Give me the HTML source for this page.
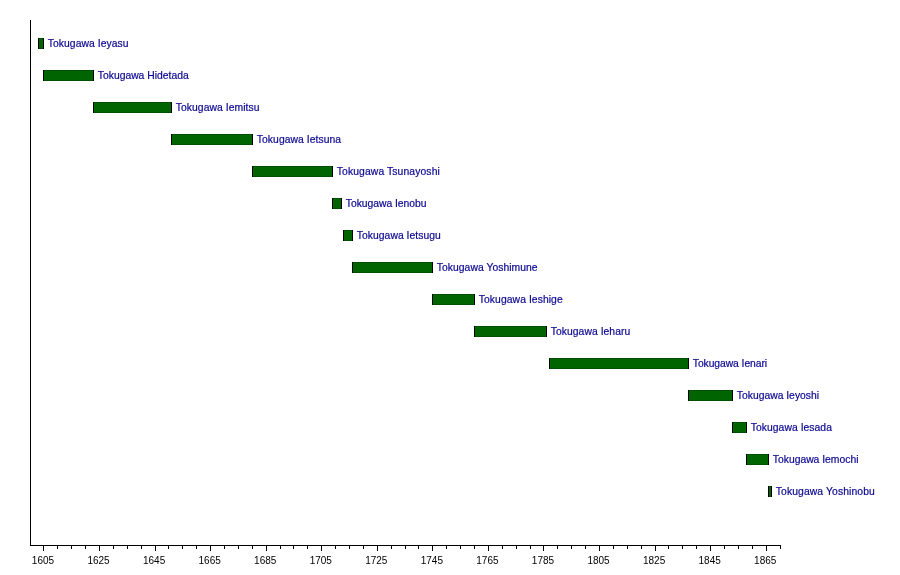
<!DOCTYPE html>
<html><head><meta charset="utf-8"><style>
html,body{margin:0;padding:0;background:#fff;}
body{width:900px;height:575px;overflow:hidden;}
svg{display:block;will-change:transform;}
.lb{font-family:"Liberation Sans",sans-serif;font-size:10.35px;fill:#0b0792;stroke:#0b0792;stroke-width:0.2;}
.ax{font-family:"Liberation Sans",sans-serif;font-size:10px;fill:#000;}
</style></head><body>
<svg width="900" height="575" viewBox="0 0 900 575" shape-rendering="crispEdges">
<rect x="30" y="20" width="1" height="526" fill="#000"/>
<rect x="30" y="545" width="751" height="1" fill="#000"/>
<rect x="43" y="546" width="1" height="5" fill="#000"/>
<text x="42.99" y="563.5" text-anchor="middle" class="ax">1605</text>
<rect x="57" y="546" width="1" height="3" fill="#000"/>
<rect x="71" y="546" width="1" height="3" fill="#000"/>
<rect x="85" y="546" width="1" height="3" fill="#000"/>
<rect x="99" y="546" width="1" height="5" fill="#000"/>
<text x="98.54" y="563.5" text-anchor="middle" class="ax">1625</text>
<rect x="113" y="546" width="1" height="3" fill="#000"/>
<rect x="127" y="546" width="1" height="3" fill="#000"/>
<rect x="141" y="546" width="1" height="3" fill="#000"/>
<rect x="155" y="546" width="1" height="5" fill="#000"/>
<text x="154.10" y="563.5" text-anchor="middle" class="ax">1645</text>
<rect x="168" y="546" width="1" height="3" fill="#000"/>
<rect x="182" y="546" width="1" height="3" fill="#000"/>
<rect x="196" y="546" width="1" height="3" fill="#000"/>
<rect x="210" y="546" width="1" height="5" fill="#000"/>
<text x="209.66" y="563.5" text-anchor="middle" class="ax">1665</text>
<rect x="224" y="546" width="1" height="3" fill="#000"/>
<rect x="238" y="546" width="1" height="3" fill="#000"/>
<rect x="252" y="546" width="1" height="3" fill="#000"/>
<rect x="266" y="546" width="1" height="5" fill="#000"/>
<text x="265.21" y="563.5" text-anchor="middle" class="ax">1685</text>
<rect x="280" y="546" width="1" height="3" fill="#000"/>
<rect x="293" y="546" width="1" height="3" fill="#000"/>
<rect x="307" y="546" width="1" height="3" fill="#000"/>
<rect x="321" y="546" width="1" height="5" fill="#000"/>
<text x="320.77" y="563.5" text-anchor="middle" class="ax">1705</text>
<rect x="335" y="546" width="1" height="3" fill="#000"/>
<rect x="349" y="546" width="1" height="3" fill="#000"/>
<rect x="363" y="546" width="1" height="3" fill="#000"/>
<rect x="377" y="546" width="1" height="5" fill="#000"/>
<text x="376.32" y="563.5" text-anchor="middle" class="ax">1725</text>
<rect x="391" y="546" width="1" height="3" fill="#000"/>
<rect x="405" y="546" width="1" height="3" fill="#000"/>
<rect x="418" y="546" width="1" height="3" fill="#000"/>
<rect x="432" y="546" width="1" height="5" fill="#000"/>
<text x="431.88" y="563.5" text-anchor="middle" class="ax">1745</text>
<rect x="446" y="546" width="1" height="3" fill="#000"/>
<rect x="460" y="546" width="1" height="3" fill="#000"/>
<rect x="474" y="546" width="1" height="3" fill="#000"/>
<rect x="488" y="546" width="1" height="5" fill="#000"/>
<text x="487.43" y="563.5" text-anchor="middle" class="ax">1765</text>
<rect x="502" y="546" width="1" height="3" fill="#000"/>
<rect x="516" y="546" width="1" height="3" fill="#000"/>
<rect x="530" y="546" width="1" height="3" fill="#000"/>
<rect x="543" y="546" width="1" height="5" fill="#000"/>
<text x="542.99" y="563.5" text-anchor="middle" class="ax">1785</text>
<rect x="557" y="546" width="1" height="3" fill="#000"/>
<rect x="571" y="546" width="1" height="3" fill="#000"/>
<rect x="585" y="546" width="1" height="3" fill="#000"/>
<rect x="599" y="546" width="1" height="5" fill="#000"/>
<text x="598.54" y="563.5" text-anchor="middle" class="ax">1805</text>
<rect x="613" y="546" width="1" height="3" fill="#000"/>
<rect x="627" y="546" width="1" height="3" fill="#000"/>
<rect x="641" y="546" width="1" height="3" fill="#000"/>
<rect x="655" y="546" width="1" height="5" fill="#000"/>
<text x="654.10" y="563.5" text-anchor="middle" class="ax">1825</text>
<rect x="668" y="546" width="1" height="3" fill="#000"/>
<rect x="682" y="546" width="1" height="3" fill="#000"/>
<rect x="696" y="546" width="1" height="3" fill="#000"/>
<rect x="710" y="546" width="1" height="5" fill="#000"/>
<text x="709.66" y="563.5" text-anchor="middle" class="ax">1845</text>
<rect x="724" y="546" width="1" height="3" fill="#000"/>
<rect x="738" y="546" width="1" height="3" fill="#000"/>
<rect x="752" y="546" width="1" height="3" fill="#000"/>
<rect x="766" y="546" width="1" height="5" fill="#000"/>
<text x="765.21" y="563.5" text-anchor="middle" class="ax">1865</text>
<rect x="780" y="546" width="1" height="3" fill="#000"/>
<rect x="38" y="38" width="6" height="11" fill="#006400"/>
<rect x="38" y="38" width="6" height="1" fill="#005200"/>
<rect x="38" y="48" width="6" height="1" fill="#005200"/>
<rect x="38" y="38" width="1" height="11" fill="#000"/>
<rect x="43" y="38" width="1" height="11" fill="#000"/>
<text x="47.80" y="46.5" textLength="80.74" lengthAdjust="spacing" class="lb">Tokugawa Ieyasu</text>
<rect x="43" y="70" width="51" height="11" fill="#006400"/>
<rect x="43" y="70" width="51" height="1" fill="#005200"/>
<rect x="43" y="80" width="51" height="1" fill="#005200"/>
<rect x="43" y="70" width="1" height="11" fill="#000"/>
<rect x="93" y="70" width="1" height="11" fill="#000"/>
<text x="97.80" y="78.5" textLength="90.86" lengthAdjust="spacing" class="lb">Tokugawa Hidetada</text>
<rect x="93" y="102" width="79" height="11" fill="#006400"/>
<rect x="93" y="102" width="79" height="1" fill="#005200"/>
<rect x="93" y="112" width="79" height="1" fill="#005200"/>
<rect x="93" y="102" width="1" height="11" fill="#000"/>
<rect x="171" y="102" width="1" height="11" fill="#000"/>
<text x="175.80" y="110.5" textLength="83.6" lengthAdjust="spacing" class="lb">Tokugawa Iemitsu</text>
<rect x="171" y="134" width="82" height="11" fill="#006400"/>
<rect x="171" y="134" width="82" height="1" fill="#005200"/>
<rect x="171" y="144" width="82" height="1" fill="#005200"/>
<rect x="171" y="134" width="1" height="11" fill="#000"/>
<rect x="252" y="134" width="1" height="11" fill="#000"/>
<text x="256.80" y="142.5" textLength="84.29" lengthAdjust="spacing" class="lb">Tokugawa Ietsuna</text>
<rect x="252" y="166" width="81" height="11" fill="#006400"/>
<rect x="252" y="166" width="81" height="1" fill="#005200"/>
<rect x="252" y="176" width="81" height="1" fill="#005200"/>
<rect x="252" y="166" width="1" height="11" fill="#000"/>
<rect x="332" y="166" width="1" height="11" fill="#000"/>
<text x="336.80" y="174.5" textLength="103.02" lengthAdjust="spacing" class="lb">Tokugawa Tsunayoshi</text>
<rect x="332" y="198" width="10" height="11" fill="#006400"/>
<rect x="332" y="198" width="10" height="1" fill="#005200"/>
<rect x="332" y="208" width="10" height="1" fill="#005200"/>
<rect x="332" y="198" width="1" height="11" fill="#000"/>
<rect x="341" y="198" width="1" height="11" fill="#000"/>
<text x="345.80" y="206.5" textLength="80.69" lengthAdjust="spacing" class="lb">Tokugawa Ienobu</text>
<rect x="343" y="230" width="10" height="11" fill="#006400"/>
<rect x="343" y="230" width="10" height="1" fill="#005200"/>
<rect x="343" y="240" width="10" height="1" fill="#005200"/>
<rect x="343" y="230" width="1" height="11" fill="#000"/>
<rect x="352" y="230" width="1" height="11" fill="#000"/>
<text x="356.80" y="238.5" textLength="83.99" lengthAdjust="spacing" class="lb">Tokugawa Ietsugu</text>
<rect x="352" y="262" width="81" height="11" fill="#006400"/>
<rect x="352" y="262" width="81" height="1" fill="#005200"/>
<rect x="352" y="272" width="81" height="1" fill="#005200"/>
<rect x="352" y="262" width="1" height="11" fill="#000"/>
<rect x="432" y="262" width="1" height="11" fill="#000"/>
<text x="436.80" y="270.5" textLength="100.76" lengthAdjust="spacing" class="lb">Tokugawa Yoshimune</text>
<rect x="432" y="294" width="43" height="11" fill="#006400"/>
<rect x="432" y="294" width="43" height="1" fill="#005200"/>
<rect x="432" y="304" width="43" height="1" fill="#005200"/>
<rect x="432" y="294" width="1" height="11" fill="#000"/>
<rect x="474" y="294" width="1" height="11" fill="#000"/>
<text x="478.80" y="302.5" textLength="83.91" lengthAdjust="spacing" class="lb">Tokugawa Ieshige</text>
<rect x="474" y="326" width="73" height="11" fill="#006400"/>
<rect x="474" y="326" width="73" height="1" fill="#005200"/>
<rect x="474" y="336" width="73" height="1" fill="#005200"/>
<rect x="474" y="326" width="1" height="11" fill="#000"/>
<rect x="546" y="326" width="1" height="11" fill="#000"/>
<text x="550.80" y="334.5" textLength="79.38" lengthAdjust="spacing" class="lb">Tokugawa Ieharu</text>
<rect x="549" y="358" width="140" height="11" fill="#006400"/>
<rect x="549" y="358" width="140" height="1" fill="#005200"/>
<rect x="549" y="368" width="140" height="1" fill="#005200"/>
<rect x="549" y="358" width="1" height="11" fill="#000"/>
<rect x="688" y="358" width="1" height="11" fill="#000"/>
<text x="692.80" y="366.5" textLength="74.33" lengthAdjust="spacing" class="lb">Tokugawa Ienari</text>
<rect x="688" y="390" width="45" height="11" fill="#006400"/>
<rect x="688" y="390" width="45" height="1" fill="#005200"/>
<rect x="688" y="400" width="45" height="1" fill="#005200"/>
<rect x="688" y="390" width="1" height="11" fill="#000"/>
<rect x="732" y="390" width="1" height="11" fill="#000"/>
<text x="736.80" y="398.5" textLength="82.23" lengthAdjust="spacing" class="lb">Tokugawa Ieyoshi</text>
<rect x="732" y="422" width="15" height="11" fill="#006400"/>
<rect x="732" y="422" width="15" height="1" fill="#005200"/>
<rect x="732" y="432" width="15" height="1" fill="#005200"/>
<rect x="732" y="422" width="1" height="11" fill="#000"/>
<rect x="746" y="422" width="1" height="11" fill="#000"/>
<text x="750.80" y="430.5" textLength="81.12" lengthAdjust="spacing" class="lb">Tokugawa Iesada</text>
<rect x="746" y="454" width="23" height="11" fill="#006400"/>
<rect x="746" y="454" width="23" height="1" fill="#005200"/>
<rect x="746" y="464" width="23" height="1" fill="#005200"/>
<rect x="746" y="454" width="1" height="11" fill="#000"/>
<rect x="768" y="454" width="1" height="11" fill="#000"/>
<text x="772.80" y="462.5" textLength="85.67" lengthAdjust="spacing" class="lb">Tokugawa Iemochi</text>
<rect x="768" y="486" width="4" height="11" fill="#006400"/>
<rect x="768" y="486" width="4" height="1" fill="#005200"/>
<rect x="768" y="496" width="4" height="1" fill="#005200"/>
<rect x="768" y="486" width="1" height="11" fill="#000"/>
<rect x="771" y="486" width="1" height="11" fill="#000"/>
<text x="775.80" y="494.5" textLength="99.0" lengthAdjust="spacing" class="lb">Tokugawa Yoshinobu</text>
</svg>
</body></html>
